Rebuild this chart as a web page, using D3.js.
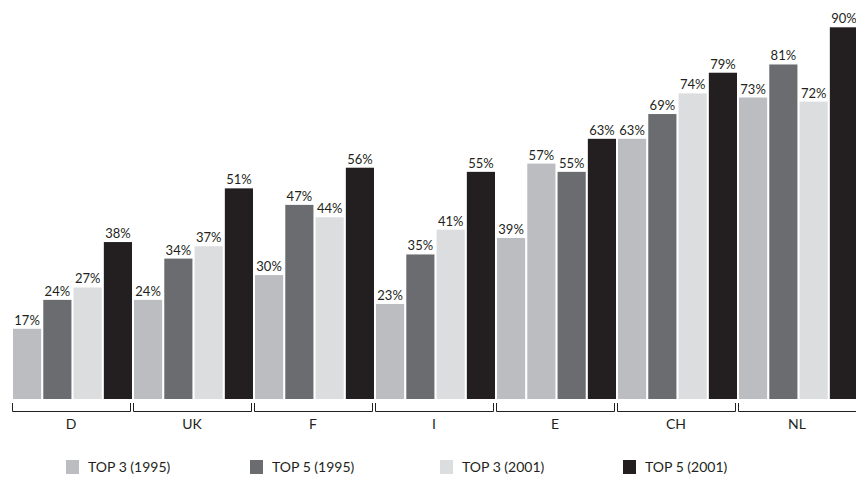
<!DOCTYPE html>
<html>
<head>
<meta charset="utf-8">
<script src="https://cdn.jsdelivr.net/npm/d3@7"></script>
<style>
  body { margin: 0; background: #fff; }
  text { font-family: Lato, "Open Sans", sans-serif; fill: #231f20; }
</style>
</head>
<body>
<svg id="chart" width="856" height="485"></svg>
<script>
// data
var groups = ['D', 'UK', 'F', 'I', 'E', 'CH', 'NL']
var series = ['TOP 3 (1995)', 'TOP 5 (1995)', 'TOP 3 (2001)', 'TOP 5 (2001)']
var top3_1995 = [17, 24, 30, 23, 39, 63, 73]
var top5_1995 = [24, 34, 47, 35, 57, 69, 81]
var top3_2001 = [27, 37, 44, 41, 55, 74, 72]
var top5_2001 = [38, 51, 56, 55, 63, 79, 90]
var values = [top3_1995, top5_1995, top3_2001, top5_2001]

var colors = ['#bcbdc0', '#6b6c70', '#dcdddf', '#231f20']

var svg = d3.select('#chart')

var baseY = 399
var groupStep = 121

var x0 = d3.scaleBand()
  .domain(groups)
  .range([13, 13 + groups.length * groupStep])

var x1 = d3.scaleBand()
  .domain(d3.range(series.length))
  .range([0, 119])
  .paddingInner(0.07)

var y = d3.scaleLinear()
  .domain([0, 100])
  .range([baseY, baseY - 413])

// bar colour; the E group in the source draws its second bar in the light grey
function barColor(g, s) {
  if (g === 'E' && s === 1) return colors[0]
  if (g === 'E' && s === 2) return colors[1]
  return colors[s]
}

var bars = []
groups.forEach(function(g, gi) {
  series.forEach(function(s, si) {
    bars.push({ group: g, s: si, value: values[si][gi] })
  })
})

var g = svg.append('g')

g.selectAll('rect.bar')
  .data(bars)
  .enter().append('rect')
  .attr('class', 'bar')
  .attr('x', d => x0(d.group) + x1(d.s))
  .attr('y', d => y(d.value))
  .attr('width', x1.bandwidth())
  .attr('height', d => baseY - y(d.value))
  .attr('fill', d => barColor(d.group, d.s))

g.selectAll('text.val')
  .data(bars)
  .enter().append('text')
  .attr('class', 'val')
  .attr('x', d => x0(d.group) + x1(d.s) + x1.bandwidth() / 2)
  .attr('y', d => y(d.value) - 4)
  .attr('text-anchor', 'middle')
  .style('font-size', '13px')
  .text(d => d.value + '%')

// group brackets under the bars
var axisY = 411.5
var brackets = svg.append('g')
  .attr('stroke', '#231f20')
  .attr('stroke-width', 1)
  .attr('fill', 'none')

groups.forEach(function(gname) {
  var left = Math.round(x0(gname)) - 0.5
  var right = Math.round(x0(gname) + 117) + 0.5
  brackets.append('path')
    .attr('d', 'M' + left + ',403V' + axisY + 'H' + right + 'V403')
})

svg.selectAll('text.grp')
  .data(groups)
  .enter().append('text')
  .attr('class', 'grp')
  .attr('x', d => x0(d) + 58)
  .attr('y', 429)
  .attr('text-anchor', 'middle')
  .style('font-size', '14px')
  .text(d => d)

// legend
var legendX = [66, 250, 440, 623]
var legend = svg.selectAll('g.leg')
  .data(series)
  .enter().append('g')
  .attr('class', 'leg')
  .attr('transform', (d, i) => 'translate(' + legendX[i] + ',460)')

legend.append('rect')
  .attr('width', 13)
  .attr('height', 14)
  .attr('fill', (d, i) => colors[i])

legend.append('text')
  .attr('x', 22)
  .attr('y', 12)
  .style('font-size', '14px')
  .text(d => d)
</script>
</body>
</html>
